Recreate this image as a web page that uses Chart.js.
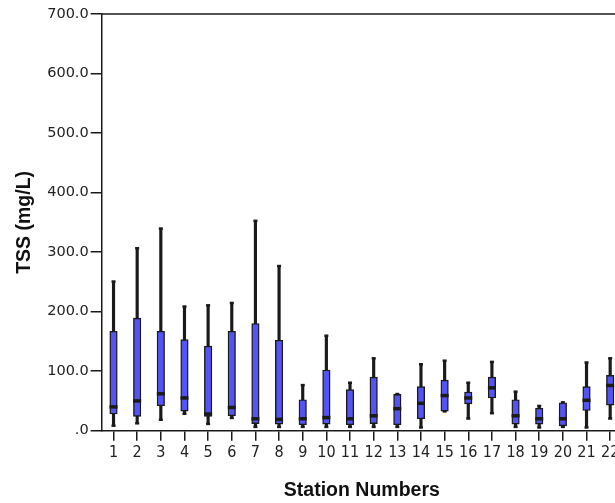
<!DOCTYPE html>
<html>
<head>
<meta charset="utf-8">
<script src="https://cdn.jsdelivr.net/npm/chart.js@4"></script>
<style>
html,body{margin:0;padding:0;background:#fff;overflow:hidden;width:615px;height:503px;}
#wrap{position:absolute;left:0;top:0;width:640px;height:503px;}
</style>
</head>
<body>
<div id="wrap"><canvas id="c" width="640" height="503"></canvas></div>
<script>
const stations = ['1','2','3','4','5','6','7','8','9','10','11','12','13','14','15','16','17','18','19','20','21','22'];
const whiskerLow  = [8, 12, 18, 28, 11, 21, 6, 6, 6, 6, 6, 6, 6, 5, 32, 20, 29, 6, 5, 6, 5, 20];
const q1          = [28, 24, 42, 33, 24, 25, 12, 11, 10, 11, 10, 12, 10, 20, 33, 45, 55, 11, 11, 8, 34, 43];
const median      = [40, 50, 62, 55, 28, 39, 20, 19, 20, 22, 20, 25, 37, 46, 59, 55, 72, 25, 20, 20, 51, 76];
const q3          = [167, 189, 167, 153, 142, 167, 180, 152, 52, 102, 69, 90, 61, 74, 85, 65, 90, 52, 38, 47, 74, 93];
const whiskerHigh = [251, 307, 340, 209, 211, 215, 353, 277, 77, 160, 81, 122, 62, 112, 118, 81, 116, 66, 42, 48, 115, 122];
const yTicks = [0, 100, 200, 300, 400, 500, 600, 700];

const INK = '#1a1a1a';
const BOX = '#5454f5';

const boxPlotExtras = {
  id: 'boxPlotExtras',
  afterDatasetsDraw(chart) {
    const {ctx, chartArea, scales: {x, y}} = chart;
    ctx.save();
    // top frame line
    ctx.strokeStyle = INK;
    ctx.lineWidth = 1.5;
    ctx.beginPath();
    ctx.moveTo(chartArea.left, chartArea.top);
    ctx.lineTo(chartArea.right + 20, chartArea.top);
    ctx.stroke();
    ctx.fillStyle = INK;
    stations.forEach((s, i) => {
      const cx = x.getPixelForValue(i);
      // caps
      const yh = y.getPixelForValue(whiskerHigh[i]);
      const yl = y.getPixelForValue(whiskerLow[i]);
      ctx.fillRect(cx - 2, yh - 1, 4, 2.5);
      ctx.fillRect(cx - 2, yl - 1.5, 4, 2.5);
      // median
      const ym = y.getPixelForValue(median[i]);
      ctx.fillRect(cx - 4, ym - 1.75, 8, 3.5);
    });
    ctx.restore();
  }
};

new Chart(document.getElementById('c'), {
  type: 'bar',
  data: {
    labels: stations,
    datasets: [
      {
        label: 'box',
        data: q1.map((v, i) => [v, q3[i]]),
        backgroundColor: BOX,
        borderColor: INK,
        borderWidth: 1.4,
        borderSkipped: false,
        barThickness: 7.5,
        grouped: false
      },
      {
        label: 'whisker',
        data: whiskerLow.map((v, i) => [v, whiskerHigh[i]]),
        backgroundColor: INK,
        borderWidth: 0,
        barThickness: 2.5,
        grouped: false
      }
    ]
  },
  options: {
    responsive: false,
    animation: false,
    devicePixelRatio: 1,
    layout: {padding: {top: 14, right: 18, left: 0, bottom: 0}},
    plugins: {legend: {display: false}, tooltip: {enabled: false}},
    scales: {
      x: {
        type: 'category',
        offset: true,
        grid: {display: true, drawOnChartArea: false, drawTicks: true, tickLength: 10, offset: false, color: INK, lineWidth: 1.5},
        border: {display: true, color: INK, width: 1.5},
        ticks: {font: {family: '"Liberation Sans Narrow", "Arial Narrow", "DejaVu Sans Condensed", sans-serif', size: 16}, color: '#222', padding: 3, maxRotation: 0, autoSkip: false},
        title: {display: true, text: 'Station Numbers', color: '#111', font: {family: '"Liberation Sans", Arial, sans-serif', size: 19.5, weight: 'bold', lineHeight: 1}, padding: {top: 0, bottom: 3}},
        afterFit(s) { s.height = 72.3; }
      },
      y: {
        min: 0, max: 700,
        afterBuildTicks(s) { s.ticks = yTicks.map(v => ({value: v})); },
        grid: {display: true, drawOnChartArea: false, drawTicks: true, tickLength: 11, color: INK, lineWidth: 1.5},
        border: {display: true, color: INK, width: 1.5},
        ticks: {
          font: {family: '"DejaVu Sans", Verdana, sans-serif', size: 14.5},
          color: '#222',
          padding: 2,
          callback(v) { return v === 0 ? '.0' : Number(v).toFixed(1); }
        },
        title: {display: true, text: 'TSS (mg/L)', color: '#111', font: {family: '"Liberation Sans", Arial, sans-serif', size: 19.5, weight: 'bold', lineHeight: 1}, padding: {top: 15, bottom: 0}},
        afterFit(s) { s.width = 101.7; }
      }
    }
  },
  plugins: [boxPlotExtras]
});
</script>
</body>
</html>
